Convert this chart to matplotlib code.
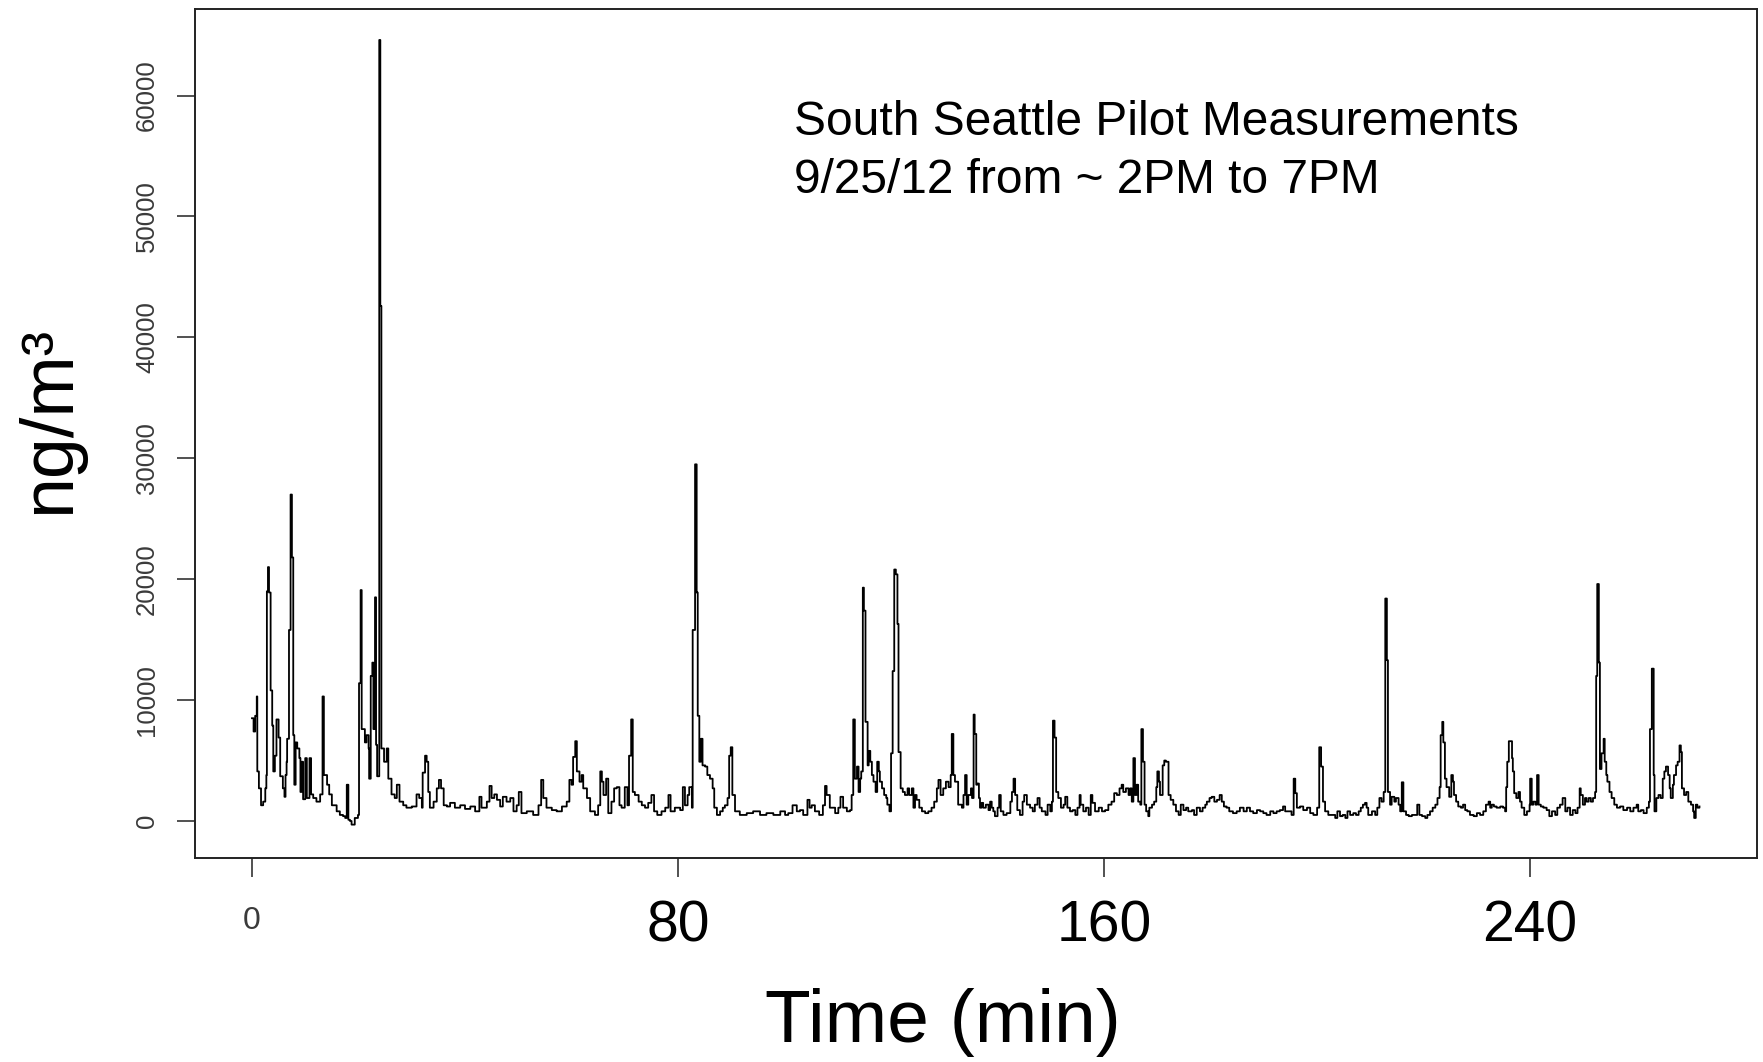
import matplotlib
matplotlib.use("Agg")
import matplotlib.pyplot as plt
from matplotlib.transforms import ScaledTranslation

plt.rcParams['font.family'] = ['Liberation Sans', 'DejaVu Sans']

# (minute, ng/m3), one list per stretch of the run
first_stretch = [
    (0.0, 8500), (0.3, 7400), (0.6, 8700), (0.9, 10300), (1.0, 4100), (1.3, 2700),
    (1.7, 1300), (2.1, 1600), (2.5, 2700), (2.7, 3800), (2.8, 19000), (3.0, 21000),
    (3.2, 18900), (3.5, 10800), (3.8, 7900), (4.0, 4100), (4.3, 5400), (4.6, 8400),
    (5.0, 6900), (5.3, 3700), (5.8, 2700), (6.1, 2000), (6.3, 3800), (6.5, 4900),
    (6.6, 6800), (6.95, 15800), (7.25, 27000), (7.5, 21800), (7.75, 7100), (7.95, 3000),
    (8.2, 6500), (8.5, 6000), (8.9, 5200), (9.1, 2400), (9.3, 4900), (9.6, 1800),
    (10.0, 5200), (10.3, 1900), (10.8, 5200), (11.1, 2200), (11.5, 1900), (12.1, 1600),
    (12.8, 2200), (13.25, 10300), (13.5, 3800), (14.1, 3000), (14.5, 2200), (15.0, 1300),
    (15.9, 800), (16.5, 500), (17.1, 400), (17.5, 250), (17.8, 3000), (18.1, 100),
    (18.4, 0), (18.7, -300), (19.3, 250), (19.9, 500), (20.1, 11400), (20.4, 19100),
    (20.6, 7600), (20.9, 7600), (21.2, 6500), (21.5, 7100), (21.9, 6000), (22.0, 3500),
    (22.3, 12000), (22.6, 13100), (22.8, 7600), (23.1, 18500), (23.3, 6300), (23.5, 3700),
    (23.9, 64600), (24.1, 42600), (24.3, 6000), (24.8, 4900), (25.3, 6000), (25.6, 3500),
    (26.2, 2200), (26.8, 1900), (27.2, 3000), (27.7, 1600), (28.4, 1300), (29.0, 1100),
    (30.0, 1200), (30.9, 2200), (31.4, 1900), (31.9, 1100), (32.05, 4000), (32.5, 5400),
    (32.8, 4900), (33.1, 2400), (33.4, 1100), (34.1, 1600), (34.7, 2700), (35.1, 3400),
    (35.5, 2700), (36.0, 1300), (36.6, 1200), (37.2, 1500), (38.1, 1100), (39.1, 1300),
    (40.0, 1000), (41.0, 1200), (41.9, 800), (42.7, 2000), (43.1, 1100), (44.1, 1600),
    (44.6, 2900), (45.0, 1900), (45.5, 2200), (46.0, 1750), (46.6, 1200), (47.1, 2000),
    (47.8, 1600), (48.5, 1900), (49.1, 800), (49.7, 1300), (50.1, 2400), (50.6, 650),
    (51.6, 800), (52.8, 500), (53.8, 1300), (54.3, 3400), (54.7, 1900), (55.3, 1100),
    (56.3, 900), (57.2, 800), (58.2, 1200), (59.1, 1600), (59.6, 3400), (60.0, 3000),
    (60.3, 5300), (60.7, 6600), (61.0, 4100), (61.5, 3250), (61.9, 3800), (62.2, 2700),
    (62.9, 1900), (63.5, 800), (64.4, 500), (65.0, 1300), (65.4, 4100), (65.7, 3250),
    (66.0, 2150), (66.5, 3500), (66.9, 650),
]

second_stretch = [
    (67.5, 1600), (68.0, 2700), (68.5, 2800), (69.0, 1300), (69.4, 1100), (70.0, 2800),
    (70.5, 1300), (70.8, 5400), (71.2, 8400), (71.5, 2400), (71.9, 2150), (72.6, 1600),
    (73.2, 1300), (73.8, 1100), (74.4, 1500), (75.0, 2150), (75.5, 800), (76.1, 500),
    (76.9, 800), (77.6, 1100), (78.2, 2150), (78.6, 800), (79.4, 1100), (80.4, 900),
    (80.9, 2800), (81.3, 1300), (81.8, 2150), (82.1, 2800), (82.6, 1100), (82.75, 15800),
    (83.2, 29500), (83.5, 18900), (83.7, 8700), (84.0, 4900), (84.3, 6800), (84.6, 4600),
    (85.1, 4500), (85.5, 3800), (86.0, 3500), (86.5, 2700), (86.8, 1100), (87.3, 500),
    (87.9, 800), (88.4, 1100), (88.8, 1300), (89.3, 1900), (89.6, 5400), (89.9, 6100),
    (90.2, 2150), (90.7, 800), (91.6, 500), (92.9, 650), (94.1, 800), (95.4, 500),
    (96.6, 650), (97.9, 500), (99.2, 800), (100.1, 500), (100.7, 650), (101.5, 1300),
    (102.3, 800), (102.9, 900), (103.5, 500), (104.3, 1750), (104.7, 1100), (105.1, 1300),
    (105.7, 800), (106.5, 500), (107.2, 1300), (107.6, 2900), (107.9, 2150), (108.5, 1100),
    (109.5, 650), (110.1, 1100), (110.5, 2000), (111.0, 1100), (111.7, 800), (112.3, 900),
    (112.6, 2150), (112.9, 8400), (113.2, 3500), (113.6, 4500), (113.9, 2400), (114.2, 3500),
    (114.4, 4100), (114.7, 19300), (114.9, 17400), (115.2, 8200), (115.6, 4600), (115.8, 5800),
    (116.1, 4900), (116.4, 3800), (116.7, 3250), (117.1, 2400), (117.4, 4900), (117.7, 4100),
    (117.9, 3250), (118.3, 2700), (118.7, 2150), (119.1, 1900), (119.3, 1350), (119.7, 800),
    (120.0, 5600), (120.3, 12400), (120.6, 20800), (120.9, 20400), (121.2, 16300), (121.4, 5700),
    (121.8, 2700), (122.2, 2400), (122.6, 2150), (123.1, 2700), (123.4, 2150), (123.9, 2700),
    (124.2, 1100), (124.5, 2150), (124.8, 1750), (125.3, 1100), (125.8, 800), (126.4, 650),
    (127.0, 800), (127.6, 1100), (128.1, 1600), (128.6, 2700), (128.9, 3400), (129.3, 2150),
    (129.8, 2700), (130.3, 3250), (130.8, 2800), (131.2, 3800), (131.4, 7200), (131.7, 3800),
    (132.0, 3250), (132.6, 1350), (133.3, 1100), (133.6, 2150), (133.9, 3800), (134.2, 1350),
    (134.5, 2150),
]

third_stretch = [
    (135.0, 2700), (135.2, 1900), (135.5, 8800), (135.7, 7200), (136.0, 3000), (136.2, 3100),
    (136.5, 1900), (136.7, 1100), (137.0, 1500), (137.3, 1100), (137.8, 1350), (138.3, 900),
    (138.6, 1600), (138.9, 1100), (139.2, 800), (139.5, 400), (140.0, 1100), (140.3, 2150),
    (140.6, 800), (141.1, 500), (141.7, 650), (142.4, 1600), (142.7, 2400), (143.0, 3500),
    (143.3, 2150), (143.7, 900), (144.2, 500), (144.7, 1600), (145.0, 2150), (145.5, 1350),
    (146.1, 1100), (146.6, 800), (147.0, 1350), (147.5, 1900), (147.9, 1100), (148.3, 800),
    (149.0, 500), (149.4, 1350), (149.9, 800), (150.2, 1600), (150.4, 8300), (150.7, 6900),
    (151.0, 2400), (151.4, 1900), (151.9, 1100), (152.4, 1350), (152.7, 2000), (153.1, 1100),
    (153.6, 800), (154.1, 900), (154.6, 500), (155.0, 1100), (155.4, 2150), (155.6, 1350),
    (156.1, 800), (156.6, 1100), (157.1, 500), (157.5, 2150), (157.8, 1500), (158.3, 800),
    (159.0, 1100), (159.6, 800), (160.2, 900), (160.8, 1350), (161.4, 1600), (161.9, 2300),
    (162.4, 2150), (162.9, 2700), (163.3, 3000), (163.6, 2400), (164.1, 2700), (164.6, 2150),
    (164.9, 2700), (165.2, 1600), (165.5, 5200), (165.8, 2150), (166.1, 3000), (166.4, 1600),
    (166.8, 1350), (167.0, 7600), (167.3, 4900), (167.6, 1350), (167.9, 800), (168.3, 400),
    (168.5, 1100), (169.0, 1350), (169.4, 1600), (169.8, 2800), (170.0, 4100), (170.3, 3250),
    (170.5, 2150), (171.0, 4600), (171.3, 5000), (171.6, 4900), (171.9, 4900), (172.1, 2150),
    (172.5, 1750), (173.0, 1350), (173.5, 800), (174.0, 500), (174.4, 1350), (174.9, 900),
    (175.4, 1100), (175.8, 800), (176.5, 900), (176.9, 500), (177.4, 1100), (178.0, 800),
    (178.5, 1100), (179.0, 1350), (179.3, 1600), (179.8, 1900), (180.2, 2000), (180.7, 1600),
    (181.2, 1750), (181.7, 2150), (182.1, 1600), (182.5, 1200), (183.0, 1100), (183.5, 800),
    (184.2, 650), (184.9, 800), (185.5, 1100), (186.2, 800), (186.8, 1100), (187.4, 800),
    (188.0, 650), (188.7, 900), (189.3, 800), (189.9, 650), (190.5, 500), (191.2, 800),
    (191.8, 650), (192.4, 800), (193.0, 900), (193.6, 1200), (194.0, 800), (194.6, 800),
    (195.2, 500), (195.6, 3500), (195.9, 2300), (196.2, 1100), (196.8, 1200), (197.4, 900),
    (198.1, 1100), (198.7, 650), (199.3, 500), (200.0, 1100), (200.4, 6100), (200.75, 4500),
    (201.1, 1600), (201.5, 800), (202.1, 500),
]

last_stretch = [
    (202.9, 500), (203.4, 250), (203.8, 800), (204.3, 400), (204.8, 500), (205.3, 250),
    (205.7, 800), (206.2, 500), (206.8, 650), (207.3, 500), (207.8, 800), (208.2, 1100),
    (208.6, 1350), (209.0, 1500), (209.3, 1100), (209.6, 500), (210.3, 800), (210.9, 500),
    (211.3, 1100), (211.7, 1900), (212.1, 1600), (212.5, 2400), (212.8, 18400), (213.1, 13300),
    (213.3, 2400), (213.7, 1350), (214.0, 2000), (214.5, 1600), (214.8, 1900), (215.3, 1350),
    (215.6, 800), (215.9, 3200), (216.2, 800), (216.7, 500), (217.2, 400), (217.8, 500),
    (218.4, 500), (218.8, 1350), (219.2, 500), (219.7, 400), (220.3, 250), (220.7, 500),
    (221.2, 800), (221.7, 1100), (222.2, 1350), (222.6, 1900), (223.0, 2800), (223.2, 7100),
    (223.5, 8200), (223.7, 6500), (224.0, 3500), (224.3, 2800), (224.8, 2000), (225.2, 3800),
    (225.5, 3250), (225.7, 2150), (226.1, 1600), (226.5, 1200), (227.0, 1100), (227.4, 1350),
    (227.8, 900), (228.2, 800), (228.7, 500), (229.4, 400), (230.0, 650), (230.6, 500),
    (231.2, 800), (231.7, 1350), (232.2, 1600), (232.5, 1100), (232.8, 1350), (233.2, 1200),
    (233.7, 1100), (234.4, 1200), (234.9, 1100), (235.3, 800), (235.5, 2800), (235.7, 4900),
    (236.0, 6600), (236.6, 5200), (236.75, 4100), (237.0, 2300), (237.4, 1900), (237.8, 2400),
    (238.1, 1600), (238.4, 1100), (238.9, 500), (239.4, 800), (239.9, 1350), (240.0, 3500),
    (240.3, 1350), (240.6, 1600), (241.0, 1350), (241.3, 3800), (241.6, 1350), (242.0, 1200),
    (242.5, 1100), (243.1, 900), (243.6, 400), (244.1, 800), (244.7, 500), (245.1, 1100),
    (245.6, 1350), (246.1, 1900), (246.6, 800), (247.0, 1100), (247.5, 500), (248.0, 900),
    (248.5, 650), (248.9, 1100), (249.3, 2700), (249.5, 2150), (249.9, 1350), (250.3, 1900),
    (250.6, 1600), (251.0, 1900), (251.4, 1600), (251.8, 1900), (252.2, 2400), (252.4, 12000),
    (252.6, 19600), (252.9, 13100), (253.1, 4300), (253.4, 5600), (253.8, 6800), (254.0, 4900),
    (254.3, 3800), (254.5, 3250), (254.9, 2400), (255.3, 1900), (255.8, 1350), (256.3, 1100),
    (256.9, 1200), (257.5, 900), (258.2, 1100), (258.8, 800), (259.4, 1100), (260.0, 1350),
    (260.3, 800), (260.8, 900), (261.3, 650), (261.9, 1100), (262.3, 1600), (262.5, 7600),
    (262.85, 12600), (263.2, 3800), (263.35, 800), (263.7, 1900), (264.1, 2150), (264.5, 1900),
    (264.9, 3500), (265.2, 4100), (265.5, 4500), (265.9, 3800), (266.2, 2700), (266.4, 1900),
    (266.8, 3000), (267.0, 3800), (267.4, 4600), (267.7, 4900), (268.05, 6250), (268.3, 5700),
    (268.5, 2700), (268.9, 2150), (269.3, 2400), (269.7, 1600), (270.2, 1350), (270.6, 800),
    (270.8, 250), (271.1, 1350), (271.4, 1100), (271.8, 1200),
]

x_ticks = [0, 80, 160, 240]
y_ticks = [0, 10000, 20000, 30000, 40000, 50000, 60000]

title_lines = ["South Seattle Pilot Measurements", "9/25/12 from ~ 2PM to 7PM"]


def main():
    readings = first_stretch + second_stretch + third_stretch + last_stretch
    minutes = [r[0] for r in readings]
    conc = [r[1] for r in readings]

    fig = plt.figure(figsize=(17.63, 10.62), dpi=100)
    ax = fig.add_axes([0.1106, 0.1921, 0.886, 0.7994])

    #   Trace drawn as steps, like the dense instrument record.
    ax.plot(minutes, conc, color='black', linewidth=1.3, drawstyle='steps-post')

    ax.set_xlim(-10.7, 282.6)
    ax.set_ylim(-3060, 67160)

    for side in ax.spines.values():
        side.set_linewidth(1.4)
        side.set_color('#222222')

    ax.set_xticks(x_ticks)
    ax.set_xticklabels([str(v) for v in x_ticks])
    ax.tick_params(axis='x', direction='out', length=14, width=1.1, pad=16,
                   labelsize=41, colors='#222222', labelcolor='black')

    ax.set_yticks(y_ticks)
    ax.set_yticklabels([str(v) for v in y_ticks], rotation=90, va='center')
    ax.tick_params(axis='y', direction='out', length=13, width=1.1, pad=13,
                   labelsize=18.5, colors='#222222', labelcolor='#3a3a3a')

    #   The "0" under the time axis is small and sits a bit lower.
    zero_label = ax.get_xticklabels()[0]
    zero_label.set_fontsize(23)
    zero_label.set_color('#3a3a3a')
    zero_label.set_transform(zero_label.get_transform()
                             + ScaledTranslation(0, -0.06, fig.dpi_scale_trans))

    fig.text(794 / 1763, 1 - 135 / 1062, title_lines[0], fontsize=34.5, va='baseline')
    fig.text(794 / 1763, 1 - 193 / 1062, title_lines[1], fontsize=34.5, va='baseline')

    fig.text(765 / 1763, 1 - 1042 / 1062, "Time (min)", fontsize=54, va='baseline')
    fig.text(50 / 1763, 1 - 420 / 1062, "ng/m\u00b3", fontsize=53, rotation=90,
             ha='center', va='center')

    fig.savefig("out.png", dpi=100)


if __name__ == "__main__":
    main()
